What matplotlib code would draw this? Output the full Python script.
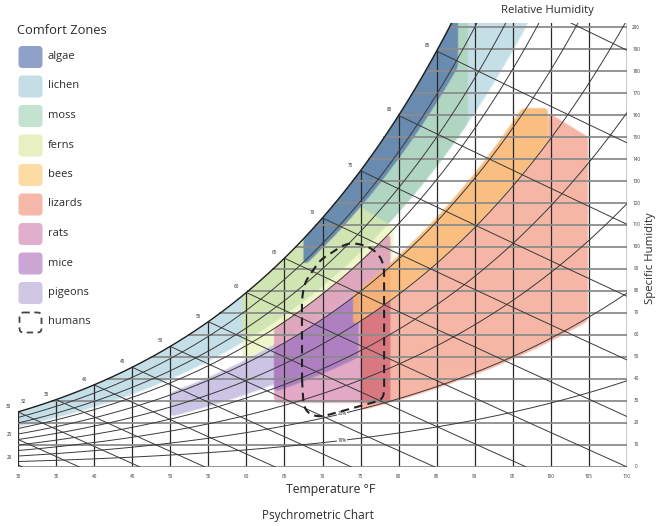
import numpy as np
import matplotlib
matplotlib.use("Agg")
import matplotlib.pyplot as plt
from matplotlib.patches import FancyBboxPatch
from matplotlib.path import Path

plt.rcParams['font.family'] = ['Open Sans', 'DejaVu Sans']

# ---------------- data ----------------
temp_ticks = list(range(30, 115, 5))          # dry bulb, deg F
sh_ticks = list(range(0, 210, 10))            # specific humidity, grains/lb
rh_levels = [0.1, 0.2, 0.3, 0.4, 0.5, 0.6, 0.7, 0.8, 0.9]
wb_levels = [20, 25, 30, 35, 40, 45, 50, 55, 60, 65, 70, 75, 80, 85, 90]
wb_labels = [30, 32, 35, 40, 45, 50, 55, 60, 65, 70, 75, 80, 85]
left_labels = [25, 20]
left_label_w = [13, 2.5]

zone_names = ['algae', 'lichen', 'moss', 'ferns', 'bees', 'lizards', 'rats', 'mice', 'pigeons']
legend_colors = ['#8fa0c9', '#c5dde6', '#c3e3d0', '#e8f0c2', '#fcdca4', '#f5b8aa', '#e1afcb', '#cba5d3', '#cfc7e4']
zone_colors = ['#6285ae', '#c5dfe8', '#9ccc9c', '#e6f0a6', '#f9b36a', '#f6b6a6', '#dc96ba', '#9a6fc0', '#b8aedb']
zone_alpha = [0.92, 1.0, 0.5, 0.6, 0.85, 1.0, 0.82, 0.7, 0.72]
zone_multiply = [False, False, False, False, False, True, False, False, False]
zone_t_lo = [67.5, 25.0, 59.5, 59.5, 74.0, 75.0, 63.6, 63.6, 50.0]
zone_t_hi = [87.8, 120.0, 89.1, 79.3, 99.6, 104.9, 78.9, 74.7, 64.5]
zone_rh_lo = [0.88, 0.73, 0.73, 0.62, 0.50, 0.195, 0.0, 0.38, 0.42]
zone_rh_hi = [1.0, 1.0, 1.0, 1.0, 0.61, 0.50, 0.70, 0.60, 0.62]
zone_rh_hi_tmax = [200, 200, 200, 200, 200, 99.6, 200, 200, 200]
zone_w_lo = [0, 0, 0, 0, 0, 0, 29, 0, 0]
zone_w_top = [240, 240, 240, 118, 163, 161, 240, 240, 240]
zone_w_slope = [0, 0, 0, -2.1, 0, -2.1, 0, 0, 0]
zone_t_ref = [0, 0, 0, 75.0, 0, 99.6, 0, 0, 0]
draw_order = [1, 2, 3, 0, 8, 6, 7, 5, 4]

humans_t = [67.3, 67.5, 68.1, 69.7, 77.9, 78.1, 78.1, 77.6, 76.2, 74.3, 73.0, 69.7, 67.7, 67.3]
humans_w = [40.0, 28.2, 24.1, 22.7, 30.5, 34.1, 90.5, 95.9, 100.0, 101.8, 101.4, 94.1, 84.1, 76.8]

W_TOP = 202.0
T_MIN, T_MAX = 30.0, 110.0
PX_T = 609 / (T_MAX - T_MIN)      # pixels per degF
PX_W = 444.4 / W_TOP              # pixels per grain

# ---------------- psychrometrics ----------------
P = 14.3
def pws(T):
    Tc = (np.asarray(T, dtype=float) - 32) / 1.8
    return 0.61094 * np.exp(17.625 * Tc / (Tc + 243.04)) * 0.145038
def w_rh(T, rh):
    pw = rh * pws(T)
    return 0.622 * pw / (P - pw) * 7000
def w_sat(T):
    return w_rh(T, 1.0)
def w_wb(T, twb):
    T = np.asarray(T, dtype=float)
    ws = w_sat(twb) / 7000
    return ((1093 - 0.556 * twb) * ws - 0.24 * (T - twb)) / (1093 + 0.444 * T - twb) * 7000

Tfine = np.linspace(T_MIN, T_MAX, 2000)
Wsat_fine = w_sat(Tfine)
def t_at_sat(w):
    return np.interp(w, Wsat_fine, Tfine)

def zone_polygon(i):
    T = np.linspace(zone_t_lo[i], zone_t_hi[i], 400)
    up = np.minimum(w_sat(T), zone_w_top[i] + zone_w_slope[i] * (T - zone_t_ref[i]))
    rhcap = np.where(T <= zone_rh_hi_tmax[i], w_rh(T, zone_rh_hi[i]), 1e9)
    up = np.minimum(up, rhcap)
    lo = np.maximum(w_rh(T, zone_rh_lo[i]), zone_w_lo[i])
    m = up > lo
    T, up, lo = T[m], up[m], lo[m]
    return np.column_stack([np.concatenate([T, T[::-1]]), np.concatenate([lo, up[::-1]])])

def box_blur(a, r):
    for axis in (0, 1):
        pad = [(0, 0), (0, 0)]
        pad[axis] = (r + 1, r)
        p = np.pad(a, pad, mode='edge')
        c = np.cumsum(p, axis=axis)
        if axis == 0:
            a = (c[2 * r + 1:] - c[:-2 * r - 1]) / (2 * r + 1)
        else:
            a = (c[:, 2 * r + 1:] - c[:, :-2 * r - 1]) / (2 * r + 1)
    return a

def hex2rgb(h):
    h = h.lstrip('#')
    return np.array([int(h[k:k + 2], 16) / 255 for k in (0, 2, 4)])

# ---------------- figure ----------------
fig = plt.figure(figsize=(6.61, 5.26), dpi=100)
ax = fig.add_axes([18/661, (526-467)/526, 609/661, 444.4/526])
ax.axis('off')

# zones rendered as a raster with rounded corners
NX, NY = 1218, 889
tx = T_MIN + (np.arange(NX) + 0.5) * (T_MAX - T_MIN) / NX
wy = W_TOP - (np.arange(NY) + 0.5) * W_TOP / NY
TT, WW = np.meshgrid(tx, wy)
pts = np.column_stack([TT.ravel(), WW.ravel()])
img = np.ones((NY, NX, 3))
for i in draw_order:
    mask = Path(zone_polygon(i)).contains_points(pts).reshape(NY, NX).astype(float)
    b = box_blur(box_blur(mask, 5), 5)
    m = np.clip((b - 0.5) * 4 + 0.5, 0, 1)[..., None]
    col = hex2rgb(zone_colors[i])
    if zone_multiply[i]:
        img *= 1 - m * (1 - col)
    else:
        a = m * zone_alpha[i]
        img = img * (1 - a) + col * a
ax.imshow(img, extent=[T_MIN, T_MAX, 0, W_TOP], origin='upper', aspect='auto',
          interpolation='antialiased', zorder=1)
ax.set_xlim(T_MIN, T_MAX)
ax.set_ylim(0, W_TOP)

LC = '#2a2a2a'
for t in temp_ticks:
    ax.plot([t, t], [0, min(w_sat(t), W_TOP)], color=LC, lw=0.9, zorder=2)
for w in sh_ticks:
    t0 = max(T_MIN, t_at_sat(w))
    ax.plot([t0, T_MAX], [w, w], color='#8c8c8c', lw=1.3, zorder=2)
for rh in rh_levels:
    w = w_rh(Tfine, rh)
    m = w <= W_TOP
    ax.plot(Tfine[m], w[m], color='#3a3a3a', lw=0.7, zorder=2)
for twb in wb_levels:
    w = w_wb(Tfine, twb)
    m = (Tfine >= twb) & (w >= 0) & (w <= W_TOP) & (w <= Wsat_fine + 0.01)
    ax.plot(Tfine[m], w[m], color='#3a3a3a', lw=0.7, zorder=2)
m = Wsat_fine <= W_TOP
ax.plot(Tfine[m], Wsat_fine[m], color='#1e1e1e', lw=1.0, zorder=3)
ax.plot([T_MAX, T_MAX], [0, W_TOP], color='#666666', lw=1.0, zorder=2)

for t in wb_labels:
    ax.annotate(str(t), (t, w_sat(t)), xytext=(-7, 4), textcoords='offset points',
                fontsize=3.3, ha='center', va='center', color='#222222', zorder=5)
for t, w in zip(left_labels, left_label_w):
    ax.annotate(str(t), (T_MIN, w), xytext=(-6, 3), textcoords='offset points',
                fontsize=3.3, ha='center', va='center', color='#222222', zorder=5)
for rh, lab in [(0.1, '10%'), (0.2, '20%')]:
    ax.text(72.6, w_rh(72.6, rh), lab, fontsize=3.3, ha='center', va='center', color='#222222',
            zorder=5, bbox=dict(facecolor='white', edgecolor='none', pad=0.3))
for t in temp_ticks:
    ax.text(t, -4.2, str(t), fontsize=3.3, ha='center', va='center', color='#333333')
for w in sh_ticks:
    ax.text(111.2, w, str(w), fontsize=3.3, ha='center', va='center', color='#333333')

# humans outline: rounded closed path
hx = np.array(humans_t) * PX_T
hy = np.array(humans_w) * PX_W
hx = np.append(hx, hx[0]); hy = np.append(hy, hy[0])
seg = np.hypot(np.diff(hx), np.diff(hy))
s = np.concatenate([[0], np.cumsum(seg)])
ss = np.arange(0, s[-1], 0.5)
rx = np.interp(ss, s, hx); ry = np.interp(ss, s, hy)
k = 13
kern = np.ones(2 * k + 1) / (2 * k + 1)
rxp = np.concatenate([rx[-k:], rx, rx[:k]]); ryp = np.concatenate([ry[-k:], ry, ry[:k]])
sx = np.convolve(rxp, kern, mode='valid'); sy = np.convolve(ryp, kern, mode='valid')
sx = np.append(sx, sx[0]); sy = np.append(sy, sy[0])
ax.plot(sx / PX_T, sy / PX_W, color='#222222', lw=1.5, dashes=(4, 2.6), zorder=6)

# ---------------- overlay (texts / legend) ----------------
ov = fig.add_axes([0, 0, 1, 1])
ov.set_xlim(0, 661)
ov.set_ylim(526, 0)
ov.axis('off')

TC = '#2b2b2b'
ov.text(17, 31, 'Comfort Zones', fontsize=9.3, ha='left', va='center', color=TC)
legend_names = zone_names + ['humans']
for k2, name in enumerate(legend_names):
    yc = 57 + k2 * 29.5
    if name == 'humans':
        ov.add_patch(FancyBboxPatch((19.5, yc - 10), 22, 20, boxstyle='round,pad=0,rounding_size=4',
                                    facecolor='none', edgecolor='#444444', lw=1.3, linestyle=(0, (3.5, 2.5))))
    else:
        ov.add_patch(FancyBboxPatch((18.5, yc - 11), 24, 22, boxstyle='round,pad=0,rounding_size=4',
                                    facecolor=legend_colors[k2], edgecolor='none'))
    ov.text(48, yc - 0.5, name, fontsize=8, ha='left', va='center', color=TC)

ov.text(547, 11, 'Relative Humidity', fontsize=8.2, ha='center', va='center', color=TC)
ov.text(651, 258, 'Specific Humidity', fontsize=8.2, ha='center', va='center', rotation=90, color=TC)
ov.text(331, 489, 'Temperature °F', fontsize=8.8, ha='center', va='center', color=TC)
ov.text(318, 516, 'Psychrometric Chart', fontsize=8.5, ha='center', va='center', color=TC)

fig.savefig('out.png', dpi=100)
